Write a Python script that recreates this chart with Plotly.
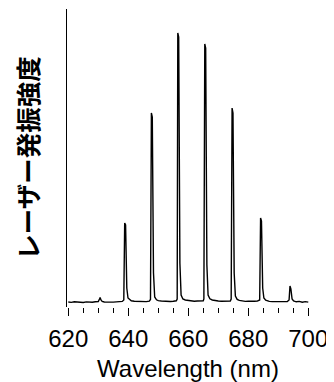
import plotly.graph_objects as go

# Spectrum (intensity in arbitrary units, baseline ~0)
wavelength_nm = [
    620.0, 621.0, 622.0, 623.0, 624.0, 625.0, 626.0, 627.0, 628.0, 629.0,
    630.0, 630.4, 630.6, 630.9, 631.3, 632.0, 633.0, 634.0, 635.0, 636.0,
    637.0, 638.0, 638.5, 638.8, 639.1, 639.5, 639.9, 640.5, 641.0, 642.0,
    643.0, 644.0, 645.0, 646.0, 647.0, 647.4, 647.7, 648.0, 648.4, 648.8,
    649.4, 650.0, 651.0, 652.0, 653.0, 654.0, 655.0, 656.0, 656.3, 656.5,
    656.8, 657.2, 657.6, 658.2, 659.0, 660.0, 661.0, 662.0, 663.0, 664.0,
    665.0, 665.2, 665.5, 665.8, 666.2, 666.6, 667.2, 668.0, 669.0, 670.0,
    671.0, 672.0, 673.0, 674.0, 674.3, 674.6, 674.9, 675.3, 675.7, 676.3,
    677.0, 678.0, 679.0, 680.0, 681.0, 682.0, 683.0, 683.8, 684.1, 684.4,
    684.8, 685.2, 685.8, 686.5, 687.0, 688.0, 689.0, 690.0, 691.0, 692.0,
    693.0, 693.6, 693.9, 694.2, 694.6, 695.1, 696.0, 697.0, 698.0, 699.0,
    700.0,
]
intensity = [
    1.0, 0.6, 1.2, 0.8, 1.0, 0.5, 1.1, 0.9, 0.7, 1.3,
    1.5, 4.0, 5.5, 3.0, 1.6, 1.0, 0.8, 1.2, 0.9, 1.1,
    1.4, 1.6, 3.0, 80.0, 78.0, 15.0, 5.0, 3.0, 2.2, 1.8,
    1.6, 1.5, 1.2, 1.4, 1.9, 3.5, 190.0, 186.0, 30.0, 6.0,
    3.2, 2.4, 2.0, 1.7, 1.9, 1.5, 1.8, 2.2, 4.0, 270.0,
    266.0, 40.0, 8.0, 4.0, 3.0, 2.4, 2.2, 1.8, 2.0, 2.1,
    2.3, 4.0, 259.0, 255.0, 38.0, 8.0, 4.2, 3.0, 2.3, 2.0,
    1.7, 2.0, 1.8, 2.0, 4.0, 195.0, 190.0, 30.0, 7.0, 3.6,
    2.6, 2.0, 1.6, 1.8, 1.5, 1.7, 1.9, 3.0, 85.0, 82.0,
    15.0, 5.0, 2.8, 2.0, 1.6, 1.4, 1.5, 1.2, 1.4, 1.3,
    1.5, 3.0, 17.0, 14.0, 4.0, 2.0, 1.2, 1.6, 0.8, 1.4,
    0.9,
]
x_tick_values = [620, 640, 660, 680, 700]
x_tick_labels = ["620", "640", "660", "680", "700"]
x_title = "Wavelength (nm)"
y_title = "レーザー発振強度"

fig = go.Figure()
fig.add_trace(go.Scatter(
    x=wavelength_nm, y=intensity, mode="lines",
    line=dict(color="black", width=1.4), showlegend=False, hoverinfo="skip",
))

# The page body has an 8px default margin, so the figure is sized to fit the window
fig.update_layout(
    width=326, height=374,
    margin=dict(l=59, r=25, t=1, b=75),
    paper_bgcolor="white", plot_bgcolor="white",
    font=dict(family="Liberation Sans, Arial, sans-serif", color="black", size=24),
)
fig.update_xaxes(
    range=[619.57, 700.24],
    showline=False, showgrid=False, zeroline=False,
    tickmode="array", tickvals=x_tick_values, ticktext=x_tick_labels,
    ticks="outside", ticklen=8, tickwidth=1, tickcolor="black",
    minor=dict(dtick=5, tick0=620, ticks="outside", ticklen=5, tickwidth=1, tickcolor="black", showgrid=False),
    tickfont=dict(size=24, color="black", family="Liberation Sans, Arial, sans-serif"),
    ticklabelstandoff=2, ticklabeloverflow="allow",
    title=dict(text=x_title, font=dict(size=24, color="black", family="Liberation Sans, Arial, sans-serif"), standoff=11),
    automargin=False,
)
fig.update_yaxes(
    range=[-4, 294],
    showline=True, linecolor="black", linewidth=1,
    showgrid=False, zeroline=False, ticks="", showticklabels=False,
    title=dict(text=y_title, font=dict(size=25.5, color="black", family="Noto Sans CJK JP", weight="bold"), standoff=28),
    automargin=False,
)

fig.write_html("out.html")
